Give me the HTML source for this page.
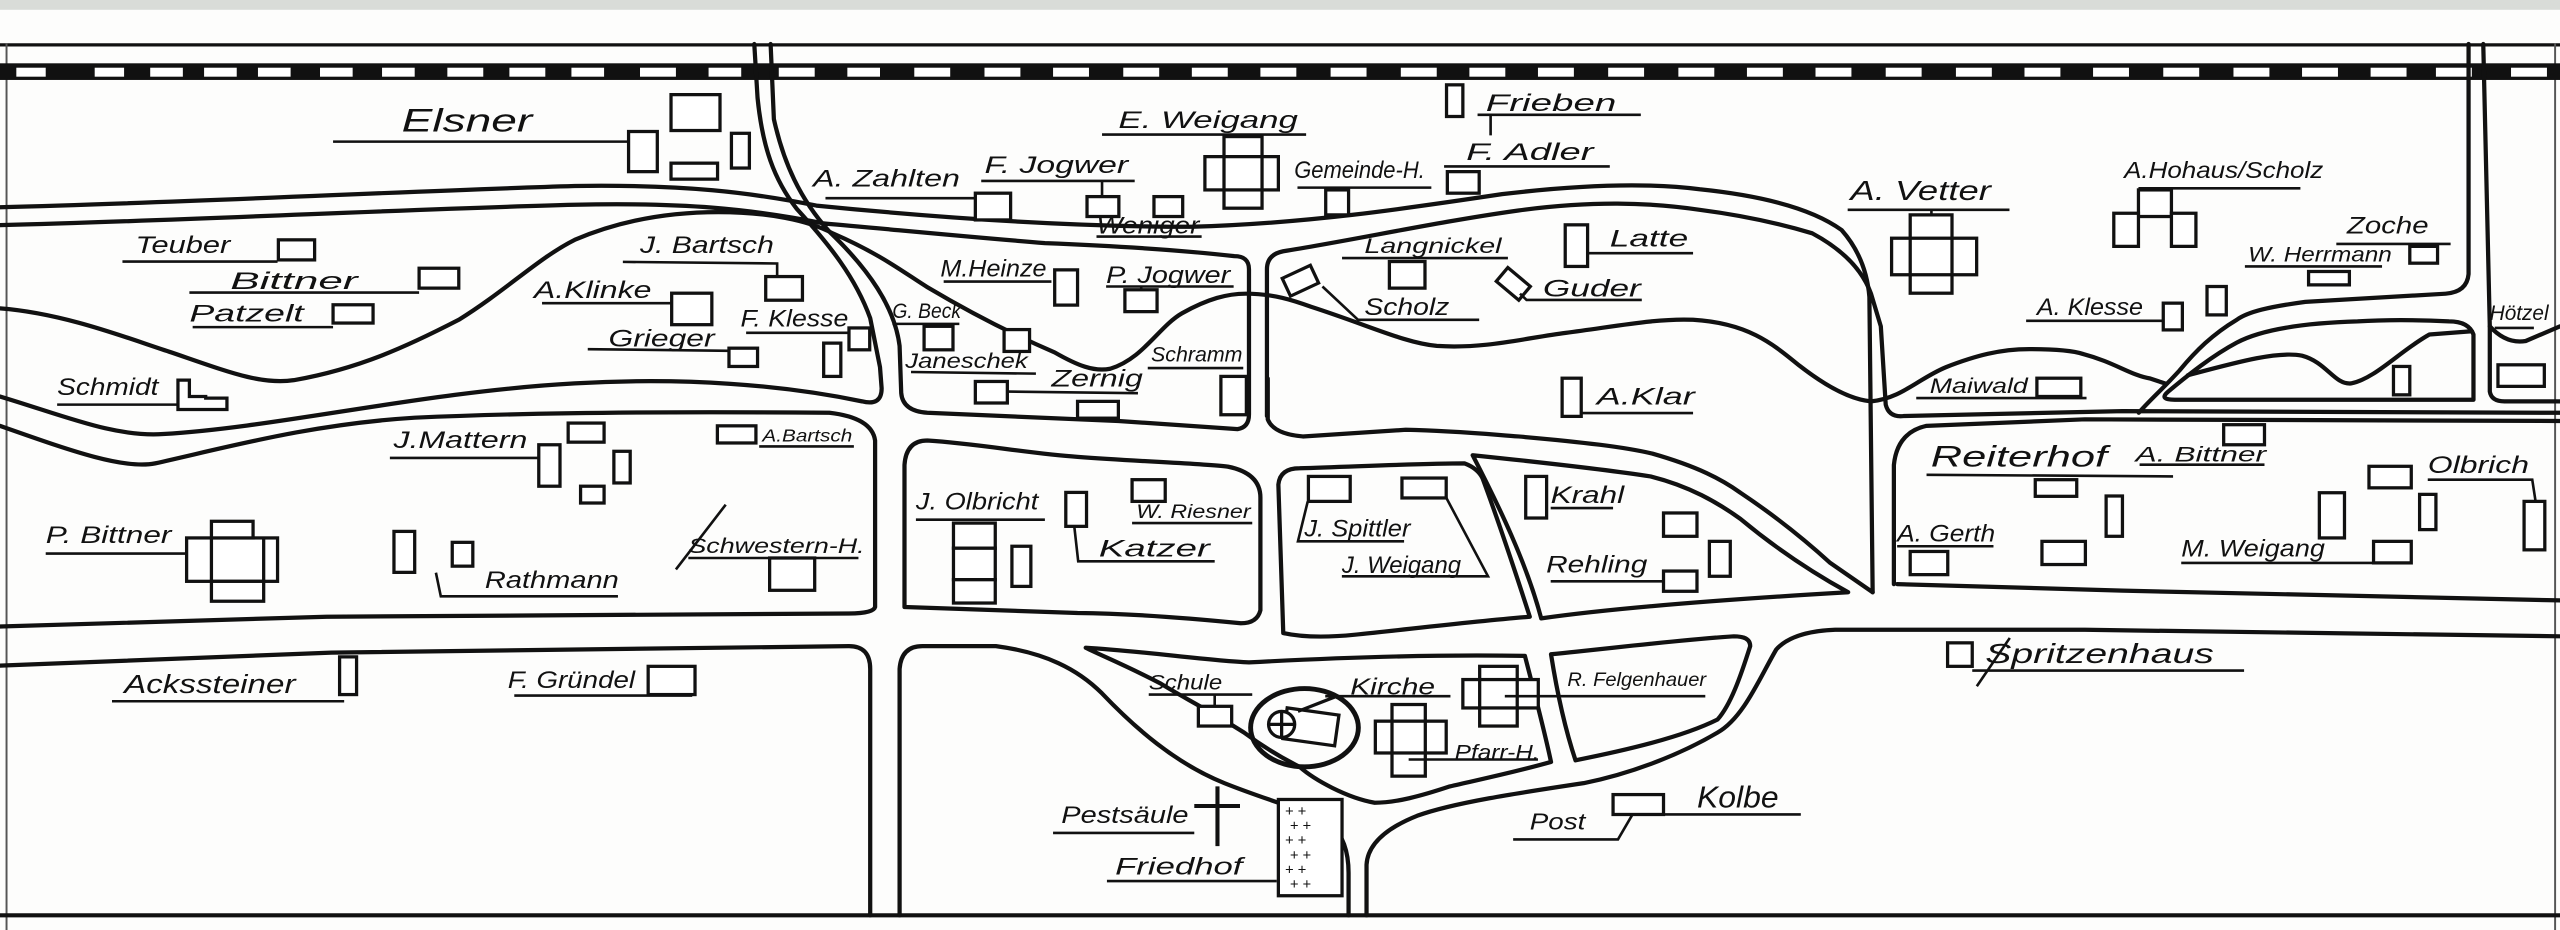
<!DOCTYPE html>
<html><head><meta charset="utf-8"><style>
html,body{margin:0;padding:0;background:#fff;}
svg{display:block;}
text{font-family:"Liberation Sans",sans-serif;font-style:italic;fill:#111;}
</style></head><body>
<svg width="2560" height="930" viewBox="0 0 1568 570" preserveAspectRatio="none" xmlns="http://www.w3.org/2000/svg">
<rect x="0" y="0" width="1568" height="570" fill="#fdfdfc"/>
<rect x="0" y="0" width="1568" height="6" fill="#d9dcd8"/>
<g stroke="#111" fill="none" stroke-linecap="round" stroke-linejoin="round">
<line x1="0" y1="27.5" x2="1568" y2="27.5" stroke-width="2"/>
<line x1="4" y1="27" x2="4" y2="570" stroke-width="1.2" stroke="#555"/>
<line x1="1565" y1="27" x2="1565" y2="570" stroke-width="1.2" stroke="#555"/>
<line x1="0" y1="561" x2="1568" y2="561" stroke-width="2.5"/>
</g>
<rect x="0" y="38.8" width="1568" height="10.2" fill="#111"/>
<g fill="#fff">
<rect x="10" y="41.5" width="18" height="5.5"/><rect x="58" y="41.5" width="18" height="5.5"/><rect x="92" y="41.5" width="20" height="5.5"/><rect x="125" y="41.5" width="20" height="5.5"/><rect x="158" y="41.5" width="20" height="5.5"/><rect x="196" y="41.5" width="20" height="5.5"/><rect x="234" y="41.5" width="20" height="5.5"/><rect x="274" y="41.5" width="22" height="5.5"/><rect x="312" y="41.5" width="22" height="5.5"/><rect x="350" y="41.5" width="20" height="5.5"/><rect x="392" y="41.5" width="22" height="5.5"/><rect x="434" y="41.5" width="20" height="5.5"/><rect x="477" y="41.5" width="22" height="5.5"/><rect x="519" y="41.5" width="20" height="5.5"/><rect x="560" y="41.5" width="22" height="5.5"/><rect x="603" y="41.5" width="22" height="5.5"/><rect x="645" y="41.5" width="22" height="5.5"/><rect x="688" y="41.5" width="22" height="5.5"/><rect x="730" y="41.5" width="22" height="5.5"/><rect x="772" y="41.5" width="22" height="5.5"/><rect x="815" y="41.5" width="22" height="5.5"/><rect x="858" y="41.5" width="22" height="5.5"/><rect x="900" y="41.5" width="22" height="5.5"/><rect x="942" y="41.5" width="22" height="5.5"/>
<rect x="985" y="41.5" width="22" height="5.5"/><rect x="1028" y="41.5" width="22" height="5.5"/><rect x="1070" y="41.5" width="22" height="5.5"/><rect x="1112" y="41.5" width="22" height="5.5"/><rect x="1155" y="41.5" width="22" height="5.5"/><rect x="1198" y="41.5" width="22" height="5.5"/><rect x="1240" y="41.5" width="22" height="5.5"/><rect x="1282" y="41.5" width="22" height="5.5"/><rect x="1325" y="41.5" width="22" height="5.5"/><rect x="1368" y="41.5" width="22" height="5.5"/><rect x="1410" y="41.5" width="22" height="5.5"/><rect x="1452" y="41.5" width="22" height="5.5"/><rect x="1492" y="41.5" width="22" height="5.5"/><rect x="1538" y="41.5" width="22" height="5.5"/>
</g>
<g stroke="#111" fill="none" stroke-width="2.6" stroke-linecap="round" stroke-linejoin="round">
<path d="M462,27 L464,60 C467,90 474,110 488,128 C508,150 524,170 533,195 L539,225 L540,238 Q540,249 528,246 C480,236 420,231 352,235 C260,240 170,262 100,266 C70,268 40,255 0,243"/>
<path d="M472,27 L474,73 C480,100 490,122 508,142 C532,165 548,188 551,212 L552,241 Q553,252 568,253 L685,258 L758,263 Q765,262 765,254 L765,165 Q765,157 756,157 C730,154 690,151 640,149 C590,145 540,140 505,137"/>
<path d="M0,127 C120,124 250,117 352,114 C420,113 460,118 500,126 C580,134 660,139 730,139 C800,137 860,128 920,119 C970,113 1010,112 1041,116 C1080,120 1110,128 1128,141 Q1143,158 1145,182 L1147,363"/>
<path d="M0,138 C120,135 250,128 352,125.5 C420,124 460,128 505,137"/>
<path d="M776,255 L776,165 Q776,156 786,154 C830,147 880,136 930,129 C975,123 1010,124 1041,128.6 C1075,133 1100,140 1110,143 Q1138,158 1146,180 L1152,200 L1155,248 Q1157,256 1166,255 L1300,252 L1568,253"/>
<path d="M776.5,232 L776.5,257 Q780,266 798,267.5 L861,263.4 C890,264 910,266 930,267.5 C970,271 995,274 1012,278 C1040,286 1055,294 1066,302 C1090,318 1110,335 1121,345 L1147,363"/>
<path d="M0,189 C40,192 80,208 105,216 C140,228 160,236 180,233 C220,226 250,212 281,196 C310,178 330,158 352,147 C380,135 410,130 440,130 C470,130 495,135 510,143 C540,156 555,168 568,176 C600,195 625,207 646,216 C660,224 670,228 680,226 C700,220 710,200 724,192 C740,183 752,180 763,180 C780,180 792,184 803,188 C840,200 860,210 880,212 C910,214 935,207 959,204 C990,200 1015,195 1037,196 C1070,198 1085,210 1102,224 C1120,238 1135,245 1146,246 C1165,244 1175,232 1192,225 C1210,218 1225,214 1243,214 C1260,214 1270,215 1276,217 C1295,222 1305,230 1317,232 L1326,235"/>
<path d="M1512,27 L1512,168 Q1511,179 1498,180 L1412,185 C1390,188 1377,191 1370,196 C1355,205 1345,215 1335,227 C1325,238 1316,246 1310,253"/>
<path d="M1515,245 L1515,205 Q1512,197 1500,197 C1480,196 1460,196 1444,197 C1410,198 1385,202 1370,210 C1355,218 1340,230 1328,240 Q1322,245 1332,245 Z"/>
<path d="M1340,230 C1370,222 1395,215 1410,218 C1425,222 1430,236 1440,235 C1455,232 1470,215 1488,205 L1514,203"/>
<path d="M1521,27 L1525,200 L1525,240 Q1526,246 1534,246 L1568,246"/>
<path d="M1525,200 Q1535,211 1547,209 L1568,200"/>
<path d="M0,261 C40,275 75,288 95,284 C140,274 190,260 254,256 C320,253 400,252 508,253 Q534,256 536,270 L536,372 Q535,376 520,376 L200,378 L0,384"/>
<path d="M0,408 L203,400 L520,396 Q533,396 533,410 L533,561"/>
<path d="M551,561 L551,410 Q552,396 565,396 L610,396 C640,400 660,410 675,425 C695,446 720,468 750,480 C780,492 805,498 815,505 Q826,515 826,535 L826,561"/>
<path d="M554,372 L554,285 Q555,270 568,270 C600,272 630,278 660,280 C700,283 735,284 752,286 Q772,290 772,305 L772,374 Q770,382 760,382 C720,378 690,376 660,375.7 C620,374 580,373 554,372 Z"/>
<path d="M786,388 L783,297 Q784,287 796,287 C830,286 870,284 897,284 Q905,287 908,293 C918,320 928,350 937,378 C900,381 860,386 830,389 C810,391 795,390 786,388 Z"/>
<path d="M902,279 C950,284 985,288 1011,292 C1035,298 1052,308 1066,318 C1090,338 1112,352 1132,363 C1080,366 1000,371 944,379 C935,345 918,310 902,279 Z"/>
<path d="M1160,358 L1160,285 Q1162,265 1180,261 L1277,257 L1568,258"/>
<path d="M1162,358 L1300,362 L1568,368"/>
<path d="M1568,390 L1277,386 L1124,386 Q1098,387 1088,398 C1078,415 1068,440 1052,449 C1030,462 1000,474 970,480 C930,486 890,492 868,500 Q838,512 837,530 L837,561"/>
<path d="M665,397 C700,399 740,405 765,406 C820,403 880,401 934,402 C940,425 946,448 950,467 C925,474 905,478 888,482 C870,488 855,492 842,492 C825,489 805,478 796,470 C780,462 770,455 762,449 C740,435 722,426 711,419 C690,408 675,402 665,397 Z"/>
<path d="M950,401 C990,397 1030,392 1062,390 Q1072,390 1072,396 C1066,415 1060,432 1052,441 C1030,452 995,460 965,466 C958,445 953,420 950,401 Z"/>
</g>
<g stroke="#111" fill="#fff" stroke-width="2">
<rect x="411" y="58" width="30" height="22"/><rect x="385" y="80.6" width="17.6" height="24.6"/><rect x="411" y="100" width="28.5" height="9.8"/><rect x="448" y="81.7" width="11" height="21.3"/>
<rect x="170.5" y="147" width="22.2" height="12.3"/><rect x="256.7" y="164.4" width="24.3" height="12.2"/><rect x="204" y="186.8" width="24.5" height="11.2"/>
<path d="M109,233 L116,233 L116,243 L126,243 L126,244 L139,244 L139,251 L109,251 Z"/>
<rect x="411.4" y="179.7" width="24.6" height="19.3"/><rect x="469" y="169.5" width="22.5" height="14.5"/><rect x="520" y="201" width="12.7" height="13.4"/><rect x="504.5" y="210.3" width="10.5" height="20.4"/><rect x="446.5" y="213.4" width="17.5" height="11.2"/>
<rect x="597.4" y="118.4" width="21.6" height="16.4"/><rect x="665.8" y="120.5" width="19.5" height="12.2"/><rect x="706.8" y="120.5" width="17.6" height="12.2"/>
<rect x="749.7" y="83.7" width="23.3" height="43.9"/><rect x="738" y="96" width="45" height="20.4"/><line x1="749.7" y1="96" x2="749.7" y2="116.4"/><line x1="773" y1="96" x2="773" y2="116.4"/>
<rect x="812" y="116.4" width="14" height="15.3"/><rect x="886.5" y="105.2" width="19.5" height="13.2"/><rect x="886" y="52" width="10" height="19.4"/>
<rect x="646" y="165.4" width="14" height="21.6"/><rect x="689" y="177.6" width="19.7" height="13.4"/><rect x="566" y="200" width="17.7" height="14.4"/><rect x="615" y="202" width="15.6" height="13.4"/><rect x="597.4" y="233.8" width="19.6" height="13.2"/><rect x="660" y="246" width="25" height="10.3"/><rect x="747.8" y="230.7" width="15.6" height="23.5"/>
<rect x="787" y="166" width="19" height="12" transform="rotate(-25 796.6 172)"/><rect x="851" y="160.3" width="21.8" height="16.3"/><rect x="918" y="168" width="18" height="11" transform="rotate(40 926.3 173.6)"/><rect x="958.7" y="137.8" width="13.7" height="25.5"/><rect x="956.8" y="231.8" width="11.7" height="23.4"/>
<rect x="1170" y="131.7" width="25.6" height="48"/><rect x="1158.6" y="146" width="52.1" height="22.4"/><line x1="1170" y1="146" x2="1170" y2="168.4"/><line x1="1195.6" y1="146" x2="1195.6" y2="168.4"/>
<rect x="1309.8" y="116.4" width="20.2" height="16.3"/><rect x="1294.7" y="130.7" width="15.1" height="20.3"/><rect x="1330" y="130.7" width="15" height="20.3"/>
<rect x="1476" y="151" width="17" height="10.3"/><rect x="1414" y="166.4" width="25" height="8.2"/><rect x="1325" y="185.8" width="11.7" height="16.4"/><rect x="1351.8" y="175.6" width="11.8" height="17.4"/>
<rect x="1530" y="223.6" width="28.4" height="13.2"/><rect x="1466" y="224.6" width="10" height="17.4"/><rect x="1247.6" y="231.8" width="26.9" height="11.2"/><rect x="1362" y="260.3" width="25" height="12.3"/>
<rect x="348" y="259.3" width="22" height="11.7"/><rect x="330" y="272.6" width="13" height="25.4"/><rect x="376" y="276.6" width="10" height="19.4"/><rect x="355.6" y="298" width="14.4" height="10.3"/><rect x="439.4" y="261" width="23.6" height="10.5"/>
<rect x="114.3" y="329.7" width="55.7" height="26.6"/><rect x="129.5" y="319.5" width="25.5" height="10.2"/><rect x="129.5" y="356.3" width="32" height="12.2"/><line x1="129.5" y1="329.7" x2="129.5" y2="356.3"/><line x1="161.5" y1="329.7" x2="161.5" y2="356.3"/>
<rect x="241.3" y="325.7" width="12.7" height="25.1"/><rect x="277" y="332.4" width="12.6" height="14.6"/><rect x="471.4" y="342" width="27.6" height="19.8"/>
<rect x="208" y="402.6" width="10.4" height="23.1"/><rect x="397" y="408.4" width="28.7" height="17.3"/>
<rect x="584" y="320.6" width="25.6" height="15.4"/><rect x="584" y="336" width="25.6" height="19.3"/><rect x="584" y="355.3" width="25.6" height="14.3"/><rect x="619.8" y="334.8" width="11.6" height="24.6"/>
<rect x="652.8" y="301.8" width="12.7" height="20.8"/><rect x="693.4" y="294" width="20.3" height="13.3"/><rect x="734" y="432.9" width="20.4" height="12.1"/>
<rect x="801.4" y="292" width="25.6" height="15.3"/><rect x="858.7" y="293" width="27.1" height="12.2"/><rect x="934.5" y="292" width="12.8" height="25.5"/><rect x="1018.9" y="314.4" width="20.5" height="14.3"/><rect x="1047" y="331.8" width="12.8" height="21.4"/><rect x="1018.9" y="350" width="20.5" height="12.4"/>
<rect x="1246.6" y="294" width="25.4" height="10.2"/><rect x="1290" y="304" width="10" height="24.7"/><rect x="1546" y="307.3" width="12.7" height="29.7"/><rect x="1451" y="285.8" width="25.9" height="13.2"/><rect x="1420.6" y="302" width="15.4" height="27.7"/><rect x="1482" y="303" width="10" height="21.6"/><rect x="1453.8" y="331.8" width="23.1" height="13.2"/><rect x="1170" y="338" width="23" height="14.2"/><rect x="1250.7" y="331.8" width="26.6" height="14.2"/>
<rect x="1192.9" y="394" width="15.1" height="14.4"/>
<rect x="906.3" y="408.4" width="23" height="36.6"/><rect x="896" y="416.5" width="46.2" height="17.4"/><line x1="906.3" y1="416.5" x2="906.3" y2="433.9"/><line x1="929.3" y1="416.5" x2="929.3" y2="433.9"/>
<rect x="852.6" y="431.8" width="20.4" height="43.9"/><rect x="842.4" y="442" width="43.4" height="19.5"/><line x1="852.6" y1="442" x2="852.6" y2="461.5"/><line x1="873" y1="442" x2="873" y2="461.5"/>
<rect x="988" y="487" width="30.9" height="12.2"/>
<rect x="783" y="490" width="39" height="59"/>
</g>
<g stroke="#111" fill="none" stroke-width="2">
<ellipse cx="799" cy="446" rx="33" ry="24" stroke-width="3"/>
<rect x="787" y="436" width="32" height="19" transform="rotate(8 803 445)" fill="#fff"/>
<circle cx="785" cy="444" r="8" fill="#fff"/><line x1="777" y1="444" x2="793" y2="444"/><line x1="785" y1="436" x2="785" y2="452"/>
<line x1="795" y1="436" x2="818" y2="427"/>
<line x1="745.7" y1="482" x2="745.7" y2="518.6" stroke-width="2.5"/><line x1="731.5" y1="494" x2="759.5" y2="494" stroke-width="2.5"/>
</g>
<g font-size="9" font-style="normal" fill="#111">
<text x="787" y="500" font-family="Liberation Mono">+ +</text><text x="790" y="509" font-family="Liberation Mono">+ +</text><text x="787" y="518" font-family="Liberation Mono">+ +</text><text x="790" y="527" font-family="Liberation Mono">+ +</text><text x="787" y="536" font-family="Liberation Mono">+ +</text><text x="790" y="545" font-family="Liberation Mono">+ +</text>
</g>
<g stroke="#111" stroke-width="1.6" fill="none">
<line x1="204" y1="86.8" x2="385" y2="86.8"/>
<line x1="75" y1="160.3" x2="170" y2="160.3"/><line x1="116" y1="179.3" x2="256.7" y2="179.3"/><line x1="118" y1="200.5" x2="204" y2="200.5"/><line x1="35" y1="248" x2="109" y2="248"/>
<path d="M381.5,160.5 L476,161.5 L476,169.5"/><line x1="332" y1="185.8" x2="411" y2="185.8"/><line x1="457" y1="204" x2="520" y2="204"/><line x1="360" y1="214" x2="446.5" y2="215"/>
<line x1="505.6" y1="121.5" x2="597.4" y2="121.5"/><path d="M601,110.9 L695,110.9 M675,110.9 L675,120.5"/><line x1="671.6" y1="145" x2="736" y2="145"/><line x1="675" y1="82.5" x2="800" y2="82.5"/><path d="M794.7,115 L876.7,115 M819,115 L819,116.4"/><line x1="884.5" y1="102" x2="986" y2="102"/><path d="M905,70.4 L1005,70.4 M913,70.4 L913,83"/>
<line x1="578" y1="172.6" x2="644" y2="172.6"/><path d="M677.5,175.6 L755.6,175.6 M699,175.6 L699,177.6"/><line x1="546.6" y1="198.5" x2="587.6" y2="198.5"/><line x1="558" y1="228" x2="634.5" y2="229"/><line x1="617" y1="240" x2="697" y2="241"/><line x1="703" y1="225.6" x2="761.5" y2="225.6"/>
<path d="M810,175.6 L831.8,196 L906,196"/><line x1="822" y1="158.2" x2="923.6" y2="158.2"/><path d="M931,180 L935,183.8 L1005.6,183.8"/><line x1="972.4" y1="155.2" x2="1037" y2="155.2"/><line x1="968.5" y1="253.2" x2="1037" y2="253.2"/>
<path d="M1131.7,128.6 L1230.8,128.6 M1183,128.6 L1183,131.7"/><line x1="1309.8" y1="115.4" x2="1409" y2="115.4"/><line x1="1431" y1="149.5" x2="1501" y2="149.5"/><line x1="1375" y1="163.3" x2="1459" y2="163.3"/><line x1="1241" y1="196.6" x2="1325" y2="196.6"/><line x1="1528" y1="201" x2="1552" y2="201"/><line x1="1173.7" y1="244" x2="1278" y2="244"/>
<line x1="238.8" y1="280.7" x2="330" y2="280.7"/><line x1="465" y1="273.6" x2="523" y2="273.6"/><line x1="28" y1="339.3" x2="114.3" y2="339.3"/><path d="M267,351 L270,365.5 L378.5,365.5"/><line x1="421.6" y1="342" x2="525.8" y2="342"/><line x1="444.5" y1="309.3" x2="414" y2="349"/>
<line x1="68.6" y1="429.8" x2="210.8" y2="429.8"/><line x1="315" y1="426.3" x2="424" y2="426.3"/>
<line x1="561" y1="318.5" x2="640" y2="318.5"/><path d="M658,322.6 L660.4,344 L744,344"/><line x1="693.4" y1="320.6" x2="767" y2="320.6"/>
<path d="M703.6,425.7 L767,425.7 M744,425.7 L744,432.9"/><line x1="645" y1="510.5" x2="731.5" y2="510.5"/><line x1="678" y1="540" x2="782" y2="540"/>
<path d="M801,307.3 L795,331.8 L860,331.8"/><path d="M885.8,305 L911.4,353.2 L821.9,353.2"/><line x1="949.8" y1="311.4" x2="988" y2="311.4"/><line x1="949.8" y1="356.3" x2="1018.9" y2="356.3"/>
<line x1="1180" y1="291" x2="1331" y2="292"/><line x1="1310.5" y1="284.8" x2="1387" y2="284.8"/><path d="M1487,294 L1551,294 L1553,307"/><line x1="1336" y1="345" x2="1476.9" y2="345"/><line x1="1162" y1="334.8" x2="1221" y2="334.8"/>
<line x1="1208" y1="411" x2="1374.5" y2="411"/><line x1="1231" y1="391" x2="1210.8" y2="420.6"/>
<line x1="811.7" y1="426.7" x2="888.4" y2="426.7"/><line x1="862.8" y1="465.5" x2="942" y2="465.5"/><path d="M921.7,426.7 L1044.5,426.7"/>
<path d="M1000,499 L991,514.5 L926.8,514.5"/><line x1="1018.9" y1="499.2" x2="1103" y2="499.2"/>
</g>
<g font-size="15">
<text x="246" y="80.6" font-size="20" textLength="80" lengthAdjust="spacingAndGlyphs">Elsner</text>
<text x="83" y="155" textLength="58" lengthAdjust="spacingAndGlyphs">Teuber</text>
<text x="141" y="177" textLength="78" lengthAdjust="spacingAndGlyphs">Bittner</text>
<text x="116" y="197" textLength="70" lengthAdjust="spacingAndGlyphs">Patzelt</text>
<text x="35" y="242" textLength="62" lengthAdjust="spacingAndGlyphs">Schmidt</text>
<text x="392" y="155" textLength="82" lengthAdjust="spacingAndGlyphs">J. Bartsch</text>
<text x="327" y="182.8" textLength="72" lengthAdjust="spacingAndGlyphs">A.Klinke</text>
<text x="453.6" y="200" textLength="66" lengthAdjust="spacingAndGlyphs">F. Klesse</text>
<text x="372.7" y="212.4" textLength="65" lengthAdjust="spacingAndGlyphs">Grieger</text>
<text x="498" y="114.3" textLength="90" lengthAdjust="spacingAndGlyphs">A. Zahlten</text>
<text x="603" y="106" textLength="88" lengthAdjust="spacingAndGlyphs">F. Jogwer</text>
<text x="671.6" y="143" textLength="63" lengthAdjust="spacingAndGlyphs">Weniger</text>
<text x="685" y="78.5" textLength="110" lengthAdjust="spacingAndGlyphs">E. Weigang</text>
<text x="792.7" y="109" textLength="80" lengthAdjust="spacingAndGlyphs">Gemeinde-H.</text>
<text x="898" y="98" textLength="78" lengthAdjust="spacingAndGlyphs">F. Adler</text>
<text x="910" y="68" textLength="80" lengthAdjust="spacingAndGlyphs">Frieben</text>
<text x="576" y="169.5" textLength="65" lengthAdjust="spacingAndGlyphs">M.Heinze</text>
<text x="677.5" y="173.6" textLength="76" lengthAdjust="spacingAndGlyphs">P. Jogwer</text>
<text x="546.6" y="195" font-size="13" textLength="42" lengthAdjust="spacingAndGlyphs">G. Beck</text>
<text x="554.5" y="225.6" font-size="13" textLength="75" lengthAdjust="spacingAndGlyphs">Janeschek</text>
<text x="644" y="237" textLength="56" lengthAdjust="spacingAndGlyphs">Zernig</text>
<text x="705" y="221.5" font-size="13" textLength="56" lengthAdjust="spacingAndGlyphs">Schramm</text>
<text x="835.7" y="193" textLength="52" lengthAdjust="spacingAndGlyphs">Scholz</text>
<text x="835.7" y="155" font-size="13" textLength="84" lengthAdjust="spacingAndGlyphs">Langnickel</text>
<text x="945" y="181.7" textLength="60" lengthAdjust="spacingAndGlyphs">Guder</text>
<text x="986" y="151" textLength="48" lengthAdjust="spacingAndGlyphs">Latte</text>
<text x="978" y="248" textLength="60" lengthAdjust="spacingAndGlyphs">A.Klar</text>
<text x="1133.4" y="122.5" font-size="17" textLength="86" lengthAdjust="spacingAndGlyphs">A. Vetter</text>
<text x="1301" y="109.2" font-size="14" textLength="122" lengthAdjust="spacingAndGlyphs">A.Hohaus/Scholz</text>
<text x="1437.5" y="143" textLength="50" lengthAdjust="spacingAndGlyphs">Zoche</text>
<text x="1377" y="160.3" font-size="13" textLength="88" lengthAdjust="spacingAndGlyphs">W. Herrmann</text>
<text x="1247.6" y="193" textLength="65" lengthAdjust="spacingAndGlyphs">A. Klesse</text>
<text x="1525" y="196" font-size="13" textLength="36" lengthAdjust="spacingAndGlyphs">Hötzel</text>
<text x="1182" y="241" font-size="13" textLength="60" lengthAdjust="spacingAndGlyphs">Maiwald</text>
<text x="241" y="274.6" textLength="82" lengthAdjust="spacingAndGlyphs">J.Mattern</text>
<text x="467" y="270.5" font-size="11" textLength="55" lengthAdjust="spacingAndGlyphs">A.Bartsch</text>
<text x="28" y="332.8" textLength="77" lengthAdjust="spacingAndGlyphs">P. Bittner</text>
<text x="297" y="360.4" textLength="82" lengthAdjust="spacingAndGlyphs">Rathmann</text>
<text x="421.6" y="339" font-size="13" textLength="108" lengthAdjust="spacingAndGlyphs">Schwestern-H.</text>
<text x="76" y="424.7" font-size="16" textLength="105" lengthAdjust="spacingAndGlyphs">Ackssteiner</text>
<text x="311" y="421.6" textLength="78" lengthAdjust="spacingAndGlyphs">F. Gründel</text>
<text x="561" y="312.4" textLength="75" lengthAdjust="spacingAndGlyphs">J. Olbricht</text>
<text x="696" y="317.5" font-size="12" textLength="70" lengthAdjust="spacingAndGlyphs">W. Riesner</text>
<text x="673" y="341" textLength="68" lengthAdjust="spacingAndGlyphs">Katzer</text>
<text x="703.6" y="422.6" font-size="13" textLength="45" lengthAdjust="spacingAndGlyphs">Schule</text>
<text x="650" y="504.3" textLength="78" lengthAdjust="spacingAndGlyphs">Pestsäule</text>
<text x="683" y="536" textLength="78" lengthAdjust="spacingAndGlyphs">Friedhof</text>
<text x="798.9" y="328.7" textLength="65" lengthAdjust="spacingAndGlyphs">J. Spittler</text>
<text x="821.9" y="351.2" textLength="73" lengthAdjust="spacingAndGlyphs">J. Weigang</text>
<text x="949.8" y="308.3" textLength="45" lengthAdjust="spacingAndGlyphs">Krahl</text>
<text x="947" y="351" textLength="62" lengthAdjust="spacingAndGlyphs">Rehling</text>
<text x="1182.6" y="285.8" font-size="18" font-family="Liberation Serif" textLength="108" lengthAdjust="spacingAndGlyphs">Reiterhof</text>
<text x="1308" y="282.8" font-size="13" textLength="80" lengthAdjust="spacingAndGlyphs">A. Bittner</text>
<text x="1487" y="290" textLength="62" lengthAdjust="spacingAndGlyphs">Olbrich</text>
<text x="1162" y="331.8" textLength="60" lengthAdjust="spacingAndGlyphs">A. Gerth</text>
<text x="1336" y="341" textLength="88" lengthAdjust="spacingAndGlyphs">M. Weigang</text>
<text x="1216" y="406.3" font-size="17" font-family="Liberation Serif" textLength="140" lengthAdjust="spacingAndGlyphs">Spritzenhaus</text>
<text x="827" y="425.7" font-size="14" font-family="Liberation Serif" textLength="52" lengthAdjust="spacingAndGlyphs">Kirche</text>
<text x="891" y="465.5" font-size="13" font-family="Liberation Serif" textLength="52" lengthAdjust="spacingAndGlyphs">Pfarr-H.</text>
<text x="960" y="420.6" font-size="12" textLength="85" lengthAdjust="spacingAndGlyphs">R. Felgenhauer</text>
<text x="937" y="508.4" font-size="14" font-family="Liberation Serif" textLength="34" lengthAdjust="spacingAndGlyphs">Post</text>
<text x="1039.4" y="495" font-size="19" textLength="50" lengthAdjust="spacingAndGlyphs">Kolbe</text>
</g>
</svg>
</body></html>
